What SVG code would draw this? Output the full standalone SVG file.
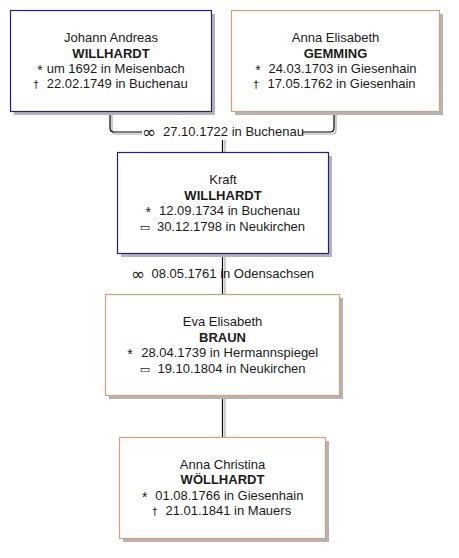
<svg xmlns="http://www.w3.org/2000/svg" width="459" height="558" viewBox="0 0 459 558">
<style>
.bg{fill:#ffffff}
.sh{fill:#b4b4b4}
.bm{fill:#ffffff;stroke:#1f1f8f;stroke-width:1.2}
.bf{fill:#ffffff;stroke:#dc9c78;stroke-width:1.2}
text{font-family:"Liberation Sans",Arial,sans-serif;font-size:13px;fill:#1a1a1a;text-anchor:middle}
.b{font-weight:bold}
.st{font-size:14px}
.sym{font-family:"DejaVu Sans",sans-serif;font-size:11px}
.mr{font-family:"DejaVu Sans",sans-serif;font-size:17px}
.dg{font-family:"DejaVu Sans",sans-serif;font-size:10px}
.ln{fill:none;stroke:#000000;stroke-width:1.2}
.ls{fill:none;stroke:#a8a8a8;stroke-width:1.2}
</style>
<rect class="bg" x="0" y="0" width="459" height="558"/>
<g id="connectors">
  <path class="ls" d="M112,112 V130 Q112,134 116,134 H142"/>
  <path class="ln" d="M110,112 V128 Q110,132 114,132 H142"/>
  <path class="ls" d="M302,134 H332 Q336,134 336,130 V112"/>
  <path class="ln" d="M302,132 H330 Q334,132 334,128 V112"/>
  <path class="ls" d="M225,140 V152"/>
  <path class="ln" d="M222.5,140 V152"/>
  <path class="ls" d="M225,254 V294"/>
  <path class="ln" d="M222.5,254 V294"/>
  <path class="ls" d="M225,396 V437"/>
  <path class="ln" d="M222.5,396 V437"/>
  <text class="mr" x="149" y="138">∞</text>
  <text x="233.5" y="136">27.10.1722 in Buchenau</text>
  <text class="mr" x="138" y="280">∞</text>
  <text x="232.8" y="278">08.05.1761 in Odensachsen</text>
</g>
<g id="johann">
  <rect class="sh" x="14" y="14" width="201" height="101"/>
  <rect class="bm" x="10.5" y="10.5" width="201" height="101"/>
  <text x="111" y="42">Johann Andreas</text>
  <text class="b" x="111" y="57.5">WILLHARDT</text>
  <text class="st" x="40" y="75">*</text>
  <text x="115.7" y="73">um 1692 in Meisenbach</text>
  <text class="dg" x="36" y="88">†</text>
  <text x="117.2" y="88">22.02.1749 in Buchenau</text>
</g>
<g id="anna-elisabeth">
  <rect class="sh" x="235" y="14" width="208" height="101"/>
  <rect class="bf" x="231.5" y="10.5" width="208" height="101"/>
  <text x="335.5" y="42">Anna Elisabeth</text>
  <text class="b" x="335.5" y="57.5">GEMMING</text>
  <text class="st" x="258" y="75">*</text>
  <text x="342.5" y="73">24.03.1703 in Giesenhain</text>
  <text class="dg" x="256" y="88">†</text>
  <text x="341.5" y="88">17.05.1762 in Giesenhain</text>
</g>
<g id="kraft">
  <rect class="sh" x="121" y="156" width="211" height="101"/>
  <rect class="bm" x="117.5" y="152.5" width="211" height="101"/>
  <text x="223" y="184">Kraft</text>
  <text class="b" x="223" y="199.5">WILLHARDT</text>
  <text class="st" x="148.3" y="217">*</text>
  <text x="229.5" y="215">12.09.1734 in Buchenau</text>
  <text class="sym" x="145" y="231">▭</text>
  <text x="231" y="230.5">30.12.1798 in Neukirchen</text>
</g>
<g id="eva">
  <rect class="sh" x="109" y="298" width="234" height="101"/>
  <rect class="bf" x="105.5" y="294.5" width="234" height="101"/>
  <text x="222.5" y="326">Eva Elisabeth</text>
  <text class="b" x="222.5" y="341.5">BRAUN</text>
  <text class="st" x="130" y="359">*</text>
  <text x="229.7" y="357">28.04.1739 in Hermannspiegel</text>
  <text class="sym" x="145" y="373">▭</text>
  <text x="231.5" y="372.5">19.10.1804 in Neukirchen</text>
</g>
<g id="anna-christina">
  <rect class="sh" x="123" y="441" width="206" height="101"/>
  <rect class="bf" x="119.5" y="437.5" width="206" height="101"/>
  <text x="222.5" y="468.5">Anna Christina</text>
  <text class="b" x="222.5" y="484">WÖLLHARDT</text>
  <text class="st" x="144.8" y="501.5">*</text>
  <text x="229.3" y="499.5">01.08.1766 in Giesenhain</text>
  <text class="dg" x="154.7" y="515">†</text>
  <text x="228.3" y="515">21.01.1841 in Mauers</text>
</g>
</svg>
